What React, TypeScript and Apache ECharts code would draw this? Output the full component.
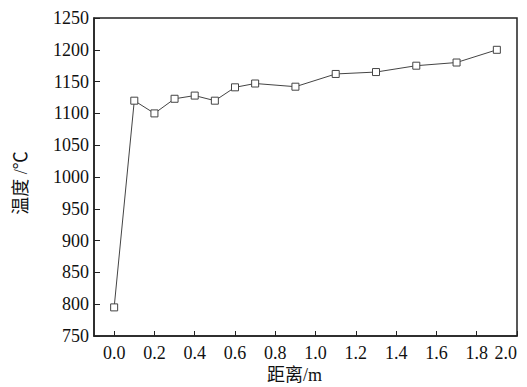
import React, { useEffect, useRef } from "react";
import * as echarts from "echarts";

const distances = [0, 0.1, 0.2, 0.3, 0.4, 0.5, 0.6, 0.7, 0.9, 1.1, 1.3, 1.5, 1.7, 1.9];
const temperatures = [795, 1120, 1100, 1123, 1128, 1120, 1141, 1147, 1142, 1162, 1165, 1175, 1180, 1200];
const xTicks = [0, 0.2, 0.4, 0.6, 0.8, 1.0, 1.2, 1.4, 1.6, 1.8, 2.0];
const xName = "距离/m";
const yName = "温度 /℃";

const FONT = "Liberation Serif, Noto Sans CJK SC, serif";

export default function App() {
  const ref = useRef<HTMLDivElement>(null);
  useEffect(() => {
    if (!ref.current) return;
    const chart = echarts.init(ref.current, null, { renderer: "svg" });
    chart.setOption({
      animation: false,
      backgroundColor: "#fff",
      textStyle: { fontFamily: FONT },
      grid: {
        left: 94,
        top: 18,
        right: 10,
        bottom: 51,
        outerBoundsMode: "none",
        containLabel: false,
        show: true,
        borderColor: "#222",
        borderWidth: 1.5,
      },
      xAxis: {
        type: "value",
        min: -0.1,
        max: 2.0,
        name: xName,
        nameLocation: "middle",
        nameGap: 30,
        nameMoveOverlap: false,
        nameTextStyle: { fontFamily: FONT, fontSize: 18, color: "#111", padding: [0, 22, 0, 0] },
        axisLine: { show: true, onZero: false, lineStyle: { color: "#222", width: 1.5 } },
        axisTick: {
          show: true,
          inside: true,
          length: 5,
          customValues: xTicks,
          lineStyle: { color: "#222" },
        },
        axisLabel: {
          customValues: xTicks,
          formatter: (v: number) => v.toFixed(1),
          fontFamily: FONT,
          fontSize: 18,
          color: "#111",
          margin: 8,
          hideOverlap: false,
          alignMaxLabel: "right",
        },
        splitLine: { show: false },
      },
      yAxis: {
        type: "value",
        min: 750,
        max: 1250,
        interval: 50,
        name: yName,
        nameLocation: "middle",
        nameGap: 64,
        nameMoveOverlap: false,
        nameTextStyle: { fontFamily: FONT, fontSize: 18, color: "#111", padding: [0, 12, 0, 0] },
        axisLine: { show: true, onZero: false, lineStyle: { color: "#222", width: 1.5 } },
        axisTick: { show: true, inside: true, length: 6, lineStyle: { color: "#222" } },
        axisLabel: {
          formatter: (v: number) => String(v),
          fontFamily: FONT,
          fontSize: 18,
          color: "#111",
          margin: 5,
        },
        splitLine: { show: false },
      },
      series: [
        {
          type: "line",
          data: distances.map((d, i) => [d, temperatures[i]]),
          symbol: "rect",
          symbolSize: 7,
          lineStyle: { color: "#444", width: 1 },
          itemStyle: { color: "#fff", borderColor: "#444", borderWidth: 1 },
        },
      ],
    });
    return () => chart.dispose();
  }, []);
  return <div ref={ref} style={{ width: 527, height: 387, position: "absolute", left: 0, top: 0 }} />;
}
